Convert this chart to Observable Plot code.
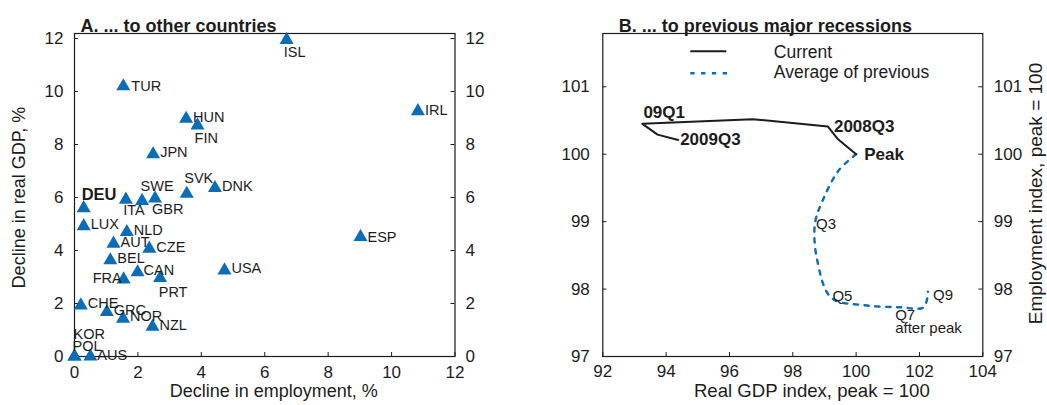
<!DOCTYPE html>
<html><head><meta charset="utf-8">
<script src="https://cdn.jsdelivr.net/npm/d3@7"></script>
<script src="https://cdn.jsdelivr.net/npm/@observablehq/plot@0.6"></script>
<style>
html,body{margin:0;padding:0;background:#fff}
#wrap{display:flex;width:1047px;height:405px;overflow:hidden}
#wrap svg{display:block}
</style>
</head><body><div id="wrap"></div>
<script>
// ---------- Panel A data ----------
const countries = ["ISL","TUR","HUN","FIN","JPN","SVK","DNK","SWE","GBR","ITA","DEU","LUX","NLD","AUT","CZE","BEL","CAN","FRA","PRT","USA","CHE","GRC","NOR","NZL","KOR","POL","AUS","ESP","IRL"];
const employmentDecline = [6.69,1.54,3.52,3.88,2.48,3.54,4.43,2.54,2.13,1.62,0.29,0.29,1.65,1.23,2.36,1.13,1.99,1.55,2.70,4.73,0.20,1.02,1.53,2.46,0.00,0.00,0.50,9.02,10.83];
const gdpDecline        = [11.95,10.20,8.97,8.72,7.63,6.14,6.36,5.96,5.87,5.92,5.60,4.92,4.70,4.26,4.07,3.63,3.18,2.91,2.96,3.25,1.93,1.68,1.43,1.12,0.00,0.00,0.00,4.51,9.26];
const ticksA = [0,2,4,6,8,10,12];

// ---------- Panel B data ----------
const currentGDP = [100, 99.41, 99.11, 96.73, 93.25, 93.73, 94.38];
const currentEmp = [100, 100.23, 100.41, 100.52, 100.45, 100.29, 100.21];
const currentLabels = ["Peak", "", "2008Q3", "", "09Q1", "", "2009Q3"];
const previousGDP = [100, 99.45, 98.95, 98.70, 98.77, 99.22, 100.27, 101.39, 102.13, 102.27];
const previousEmp = [100, 99.76, 99.32, 98.97, 98.43, 97.87, 97.76, 97.73, 97.73, 97.96];
const previousLabels = ["", "", "", "Q3", "", "Q5", "", "Q7\nafter peak", "", "Q9"];
const ticksBx = [92,94,96,98,100,102,104];
const ticksBy = [97,98,99,100,101];
const legendLabels = ["Current", "Average of previous"];

// ---------- layout / style ----------
const font = "'Liberation Sans', Arial, Helvetica, sans-serif";
const ink = "#1c1c1c";
const blue = "#0b6db7";
const H = 405, MT = 33, MB = 49;
const innerH = H - MT - MB;
const WA = 520, A_ML = 74, A_MR = WA - 454.5;
const WB = 527, B_ML = 602.3 - WA, B_MR = 1047 - 982.3;
const innerWA = WA - A_ML - A_MR, innerWB = WB - B_ML - B_MR;
const dotted = "4.3,6.5";

// label placement [textAnchor, dx, dy]
const placeA = {
  ISL:["middle",8,13], TUR:["start",8,0], HUN:["start",7,-1.5], FIN:["start",-3,13],
  JPN:["start",7,-2], SVK:["middle",12,-15], DNK:["start",7,-2], SWE:["middle",2,-12],
  GBR:["start",10,8], ITA:["middle",8,11], DEU:["start",-2,-13], LUX:["start",7,-2],
  NLD:["start",7,-1.5], AUT:["start",7,-1.5], CZE:["start",7,-1.5], BEL:["start",7,-1.5],
  CAN:["start",6,-1.5], FRA:["end",-2,-1.5], PRT:["middle",13,14], USA:["start",7,-2],
  CHE:["start",7,-2], GRC:["start",7,-2], NOR:["start",7,-2], NZL:["start",7,-1],
  KOR:["start",-1,-22], POL:["start",-2,-10], AUS:["start",7,-1], ESP:["start",7,0], IRL:["start",7,-1]
};
const placeCur = {"Peak":[8,0], "2008Q3":[6,0], "09Q1":[1,-11], "2009Q3":[2,0]};
const placePrev = {"Q3":[1,1,"middle"], "Q5":[1,-1,"middle"], "Q7\nafter peak":[-5,3,"top"], "Q9":[5,4,"middle"]};

function inwardTicks(xt, yt, innerW) {
  return [
    Plot.tickX(xt, {x: d => d, insetTop: innerH - 4, stroke: ink, strokeWidth: 1}),
    Plot.tickY(yt, {y: d => d, insetRight: innerW - 4, stroke: ink, strokeWidth: 1}),
    Plot.tickY(yt, {y: d => d, insetLeft: innerW - 4, stroke: ink, strokeWidth: 1})
  ];
}
const fmt = d => String(d);

// ---------- Panel A ----------
const idxA = d3.range(countries.length);
const labelsA = idxA.map(i => {
  const [anchor, dx, dy] = placeA[countries[i]];
  const bold = countries[i] === "DEU";
  return Plot.text([i], {
    x: j => employmentDecline[j], y: j => gdpDecline[j], text: j => countries[j],
    textAnchor: anchor, dx, dy, fill: ink,
    fontSize: bold ? 16.5 : 14.5, fontWeight: bold ? "bold" : "normal"
  });
});

const plotA = Plot.plot({
  width: WA, height: H, marginTop: MT, marginBottom: MB, marginLeft: A_ML, marginRight: A_MR,
  style: {fontFamily: font, fontSize: "17px", color: ink, background: "white", overflow: "visible"},
  x: {domain: [0, 12]},
  y: {domain: [0, 12.19]},
  marks: [
    Plot.frame({stroke: ink, strokeWidth: 1.2}),
    ...inwardTicks(ticksA, ticksA, innerWA),
    Plot.axisX(ticksA, {anchor: "bottom", tickSize: 0, tickPadding: 9, label: null, tickFormat: fmt}),
    Plot.axisY(ticksA, {anchor: "left", tickSize: 0, tickPadding: 11, label: null, tickFormat: fmt}),
    Plot.axisY(ticksA, {anchor: "right", tickSize: 0, tickPadding: 10.5, label: null, tickFormat: fmt}),
    Plot.dot(idxA, {x: i => employmentDecline[i], y: i => gdpDecline[i], symbol: "triangle", r: 5.2, fill: blue}),
    ...labelsA,
    Plot.text(["A. ... to other countries"], {frameAnchor: "top-left", textAnchor: "start", dx: 6, dy: -14, fontWeight: "bold", fontSize: 18, fill: ink}),
    Plot.text(["Decline in employment, %"], {frameAnchor: "bottom", textAnchor: "middle", dx: 9, dy: 40.5, fontSize: 18, fill: ink}),
    Plot.text(["Decline in real GDP, %"], {frameAnchor: "left", textAnchor: "middle", rotate: -90, dx: -55, dy: 2.5, fontSize: 18, fill: ink})
  ]
});

// ---------- Panel B ----------
const idxCur = d3.range(currentGDP.length);
const idxPrev = d3.range(previousGDP.length);

const labelsCur = idxCur.filter(i => currentLabels[i]).map(i => {
  const [dx, dy] = placeCur[currentLabels[i]];
  return Plot.text([i], {x: j => currentGDP[j], y: j => currentEmp[j], text: j => currentLabels[j],
    textAnchor: "start", dx, dy, fontWeight: "bold", fontSize: 17, fill: ink});
});
const labelsPrev = idxPrev.filter(i => previousLabels[i]).map(i => {
  const [dx, dy, la] = placePrev[previousLabels[i]];
  return Plot.text([i], {x: j => previousGDP[j], y: j => previousEmp[j], text: j => previousLabels[j],
    textAnchor: "start", lineAnchor: la, lineHeight: 0.9, dx, dy, fontSize: 15, fill: ink});
});

function legendMark(index, scales, values, dims) {
  const g = d3.create("svg:g");
  const x0 = dims.marginLeft;
  g.append("line").attr("x1", x0 + 88).attr("x2", x0 + 124).attr("y1", 51.3).attr("y2", 51.3)
    .attr("stroke", ink).attr("stroke-width", 2);
  g.append("line").attr("x1", x0 + 88).attr("x2", x0 + 126).attr("y1", 73.3).attr("y2", 73.3)
    .attr("stroke", blue).attr("stroke-width", 2.4).attr("stroke-dasharray", dotted);
  legendLabels.forEach((t, k) => {
    g.append("text").attr("x", x0 + 171.5).attr("y", 51.7 + k * 20.5).attr("dy", "0.35em")
      .attr("text-anchor", "start")
      .attr("font-family", font).attr("font-size", 17.5).attr("fill", ink).text(t);
  });
  return g.node();
}

const plotB = Plot.plot({
  width: WB, height: H, marginTop: MT, marginBottom: MB, marginLeft: B_ML, marginRight: B_MR,
  style: {fontFamily: font, fontSize: "17px", color: ink, background: "white", overflow: "visible"},
  x: {domain: [92, 104]},
  y: {domain: [97, 101.79]},
  marks: [
    Plot.frame({stroke: ink, strokeWidth: 1.2}),
    ...inwardTicks(ticksBx, ticksBy, innerWB),
    Plot.axisX(ticksBx, {anchor: "bottom", tickSize: 0, tickPadding: 8, label: null, tickFormat: fmt}),
    Plot.axisY(ticksBy, {anchor: "left", tickSize: 0, tickPadding: 13, label: null, tickFormat: fmt}),
    Plot.axisY(ticksBy, {anchor: "right", tickSize: 0, tickPadding: 11, label: null, tickFormat: fmt}),
    Plot.line(idxPrev, {x: i => previousGDP[i], y: i => previousEmp[i], stroke: blue, strokeWidth: 2.4,
      strokeDasharray: dotted, curve: "catmull-rom"}),
    Plot.line(idxCur, {x: i => currentGDP[i], y: i => currentEmp[i], stroke: ink, strokeWidth: 2}),
    ...labelsCur,
    ...labelsPrev,
    legendMark,
    Plot.text(["B. ... to previous major recessions"], {frameAnchor: "top-left", textAnchor: "start", dx: 16, dy: -14, fontWeight: "bold", fontSize: 18, fill: ink}),
    Plot.text(["Real GDP index, peak = 100"], {frameAnchor: "bottom", textAnchor: "middle", dx: 19, dy: 40.5, fontSize: 18.6, fill: ink}),
    Plot.text(["Employment index, peak = 100"], {frameAnchor: "right", textAnchor: "middle", rotate: -90, dx: 53, dy: -1.5, fontSize: 19, fill: ink})
  ]
});

const wrap = document.getElementById("wrap");
wrap.appendChild(plotA);
wrap.appendChild(plotB);
</script></body></html>
